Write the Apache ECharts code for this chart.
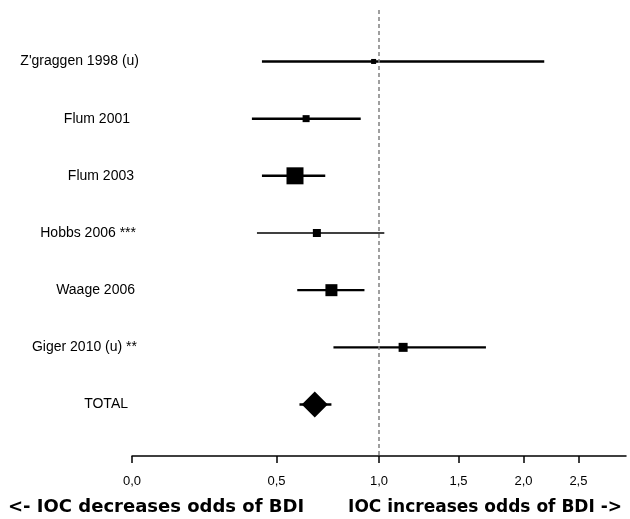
<!DOCTYPE html>
<html>
<head>
<meta charset="utf-8">
<script src="https://cdn.jsdelivr.net/npm/echarts@6/dist/echarts.min.js"></script>
<style>
  html, body { margin: 0; padding: 0; background: #fff; }
  #chart { width: 630px; height: 519px; }
</style>
</head>
<body>
<div id="chart"></div>
<script>
// ---- data ----
const studies = ["Z'graggen 1998 (u)", "Flum 2001", "Flum 2003", "Hobbs 2006 ***", "Waage 2006", "Giger 2010 (u) **", "TOTAL"];
const oddsRatio = [0.97, 0.63, 0.58, 0.68, 0.75, 1.14, 0.67];
const ciLower   = [0.44, 0.40, 0.44, 0.42, 0.59, 0.76, 0.60];
const ciUpper   = [2.18, 0.90, 0.72, 1.03, 0.92, 1.70, 0.75];
const studyWeight = [5, 7, 17, 8, 12, 9, 26]; // relative marker size (weight)
const tickValues = [0.0, 0.5, 1.0, 1.5, 2.0, 2.5];
const referenceValue = 1.0;
const leftNote = "<- IOC decreases odds of BDI";
const rightNote = "IOC increases odds of BDI ->";

// ---- styles ----
const lineWidths = [2.5, 2.5, 2.5, 1.7, 2.2, 2.2, 2.5];
const labelRightPad = [0, 9, 5, 3, 4, 2, 11];
const FONT = '"Liberation Sans", Arial, sans-serif';

// axis uses log scale of (1 + value)
const shift = v => 1 + v;
const rows = studies.map((_, i) => i + 1);

const ciData = studies.map((_, i) => [shift(ciLower[i]), shift(ciUpper[i]), rows[i]]);
const pointData = studies.map((name, i) => ({
  value: [shift(oddsRatio[i]), rows[i]],
  symbol: name === 'TOTAL' ? 'diamond' : 'rect',
  symbolSize: studyWeight[i]
}));

const rich = {};
labelRightPad.forEach((p, i) => {
  rich['r' + i] = { fontSize: 14, fontFamily: FONT, color: '#000', padding: [0, p, 0, 0] };
});

const chart = echarts.init(document.getElementById('chart'), null, { renderer: 'canvas' });
chart.setOption({
  animation: false,
  backgroundColor: '#fff',
  grid: { left: 132, right: 4, top: 10, bottom: 63, containLabel: false },
  xAxis: {
    type: 'log',
    logBase: 10,
    min: shift(0),
    max: shift(3),
    axisLine: { show: true, lineStyle: { color: '#000', width: 1.5 } },
    axisTick: { show: true, customValues: tickValues.map(shift), length: 7, lineStyle: { color: '#000', width: 1.5 } },
    axisLabel: {
      customValues: tickValues.map(shift),
      formatter: v => (v - 1).toFixed(1).replace('.', ','),
      margin: 19, fontSize: 13, fontFamily: FONT, color: '#000'
    },
    splitLine: { show: false },
    minorTick: { show: false }
  },
  yAxis: {
    type: 'value',
    inverse: true,
    min: 0.1,
    max: 7.9,
    axisLine: { show: false },
    axisTick: { show: false },
    splitLine: { show: false },
    axisLabel: {
      customValues: rows,
      formatter: v => { const i = Math.round(v) - 1; return '{r' + i + '|' + studies[i] + '}'; },
      rich: rich,
      margin: -7, fontSize: 14, fontFamily: FONT, color: '#000'
    }
  },
  series: [
    {
      type: 'custom',
      data: ciData,
      encode: { x: [0, 1], y: 2 },
      renderItem: function (params, api) {
        const a = api.coord([api.value(0), api.value(2)]);
        const b = api.coord([api.value(1), api.value(2)]);
        return {
          type: 'line',
          shape: { x1: a[0], y1: a[1], x2: b[0], y2: b[1] },
          style: { stroke: '#000', lineWidth: lineWidths[params.dataIndex] }
        };
      },
      markLine: {
        silent: true,
        symbol: 'none',
        label: { show: false },
        lineStyle: { color: '#808080', type: [4, 3], width: 1.5 },
        data: [{ xAxis: shift(referenceValue) }]
      },
      z: 2
    },
    {
      type: 'scatter',
      data: pointData,
      itemStyle: { color: '#000', opacity: 1 },
      z: 3
    }
  ],
  graphic: [
    { type: 'text', left: 8, top: 498, style: { text: leftNote, font: 'bold 18px "DejaVu Sans", sans-serif', fill: '#000' } },
    { type: 'text', right: 8, top: 499, style: { text: rightNote, font: 'bold 17px "DejaVu Sans", sans-serif', fill: '#000' } }
  ]
});
</script>
</body>
</html>
